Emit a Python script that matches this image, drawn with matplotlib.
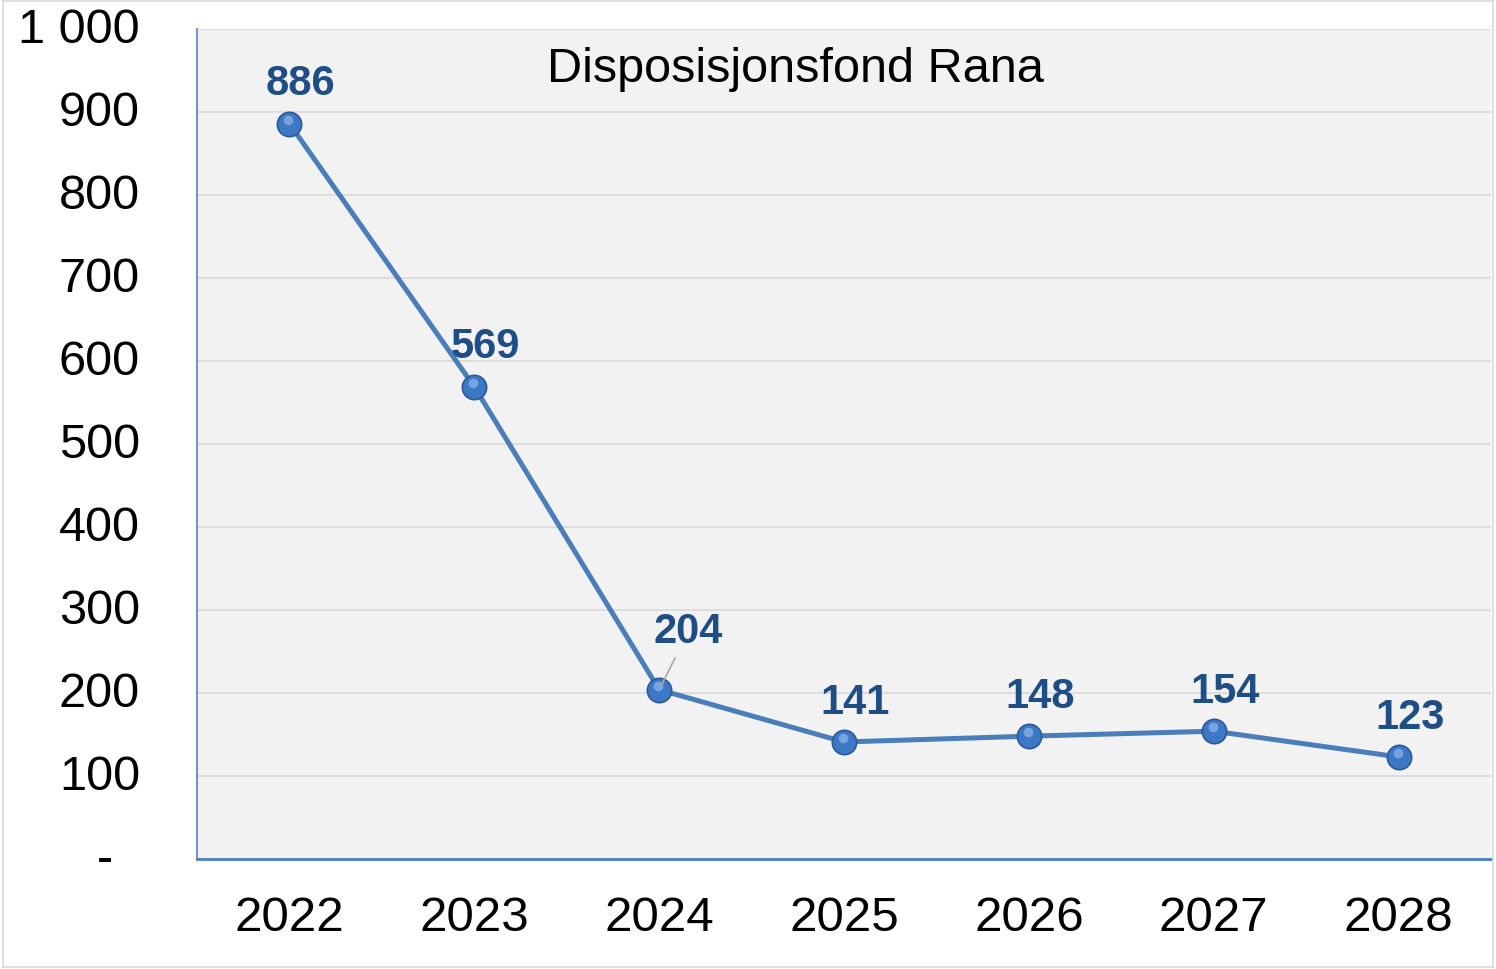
import matplotlib
matplotlib.use("Agg")
import matplotlib.pyplot as plt
from matplotlib.patches import Rectangle

years = ["2022", "2023", "2024", "2025", "2026", "2027", "2028"]
values = [886, 569, 204, 141, 148, 154, 123]
yticks = [0, 100, 200, 300, 400, 500, 600, 700, 800, 900, 1000]
ytick_labels = ["-  ", "100", "200", "300", "400", "500", "600", "700", "800", "900", "1 000"]
title = "Disposisjonsfond Rana"

plt.rcParams['font.family'] = ['Liberation Sans', 'DejaVu Sans']

fig = plt.figure(figsize=(14.96, 9.70), dpi=100)
fig.patch.set_facecolor("white")
fig.add_artist(Rectangle((0.002, 0.002), 0.996, 0.996, transform=fig.transFigure,
                         fill=False, edgecolor="#d9d9d9", linewidth=1.2))

ax = fig.add_axes([0.1317, 0.1134, 0.8650, 0.8556])
ax.set_facecolor("#f2f2f2")

x = [i + 0.5 for i in range(len(years))]
ax.plot(x, values, color="#4a7ebb", linewidth=3.6, zorder=3,
        marker="o", markersize=17.5, markerfacecolor="#3d78c6",
        markeredgecolor="#2b5a96", markeredgewidth=1.2)
# subtle highlight to mimic the glossy marker look
ax.plot(x, values, linestyle="none", marker="o", markersize=7,
        markerfacecolor="#8fb6e8", markeredgewidth=0, alpha=0.7, zorder=3.5,
        transform=ax.transData + matplotlib.transforms.ScaledTranslation(-1/100, 4/100, fig.dpi_scale_trans))

ax.set_xlim(0, 7)
ax.set_ylim(0, 1000)
ax.set_yticks(yticks)
ax.set_yticklabels(ytick_labels)
ax.set_xticks(x)
ax.set_xticklabels(years)
ax.tick_params(axis="y", length=0, pad=41, labelsize=35)
ax.tick_params(axis="x", length=0, pad=26, labelsize=35.5)
for lbl in ax.get_yticklabels():
    lbl.set_verticalalignment("center")
ax.grid(axis="y", color="#d9d9d9", linewidth=1.2)
ax.set_axisbelow(True)
for s in ["top", "right"]:
    ax.spines[s].set_visible(False)
ax.spines["left"].set_color("#6f98cf")
ax.spines["left"].set_linewidth(1.5)
ax.spines["bottom"].set_color("#4a7ebb")
ax.spines["bottom"].set_linewidth(2)

for i, (xi, v) in enumerate(zip(x, values)):
    if years[i] == "2024":
        ax.annotate(str(v), xy=(xi, v), xytext=(21, 42), textcoords="offset points",
                    ha="center", va="center", fontsize=30, fontweight="bold",
                    color="#1f4e86", zorder=4,
                    arrowprops=dict(arrowstyle="-", color="#a6a6a6", lw=1.2,
                                    shrinkA=3, shrinkB=2))
    else:
        ax.annotate(str(v), xy=(xi, v), xytext=(8, 29), textcoords="offset points",
                    ha="center", va="center", fontsize=30, fontweight="bold",
                    color="#1f4e86", zorder=4)

fig.text(795 / 1496, 1 - 69 / 970, title, ha="center", va="center", fontsize=35, color="black")

fig.savefig("out.png", dpi=100, facecolor="white")
